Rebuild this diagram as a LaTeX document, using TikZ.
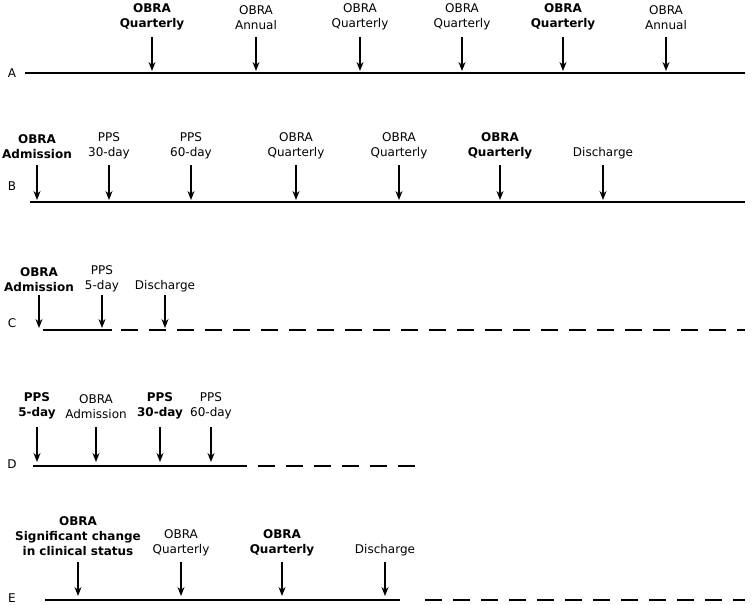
\documentclass[tikz,border=0pt]{standalone}
\usepackage{fontspec}
\setmainfont{DejaVu Sans}
\usetikzlibrary{arrows.meta}
\begin{document}
\begin{tikzpicture}[x=1pt,y=-1pt,
  lbl/.style={font=\fontsize{12}{15}\selectfont,align=center,inner sep=0pt},
  blbl/.style={lbl,font=\fontsize{12}{15}\selectfont\bfseries},
  arr/.style={-{Stealth[length=9pt,width=7pt]},line width=1.3pt},
  tl/.style={line width=1.2pt},
  dl/.style={line width=1.2pt,dash pattern=on 17pt off 11pt},
  rowl/.style={font=\fontsize{12}{14}\selectfont,inner sep=0pt}]
\useasboundingbox (0,0) rectangle (755,605);
% Row A
\node[rowl] (lA) at (12,73) {A};
\coordinate (a0) at (25,73); \coordinate (a1) at (745,73);
\draw[tl] (a0) -- (a1);
\foreach \x/\t/\s [count=\i] in {152/{OBRA\\Quarterly}/blbl,256/{OBRA\\Annual}/lbl,360/{OBRA\\Quarterly}/lbl,462/{OBRA\\Quarterly}/lbl,563/{OBRA\\Quarterly}/blbl,666/{OBRA\\Annual}/lbl}{
  \node[\s,anchor=south] (ta\i) at (\x,30) {\t};
  \coordinate (sa\i) at (\x,37); \coordinate (ea\i) at (\x,71);
  \draw[arr] (sa\i) -- (ea\i);}
% Row B
\node[rowl] (lB) at (12,186) {B};
\coordinate (b0) at (30,202); \coordinate (b1) at (745,202);
\draw[tl] (b0) -- (b1);
\foreach \x/\t/\s [count=\i] in {37/{OBRA\\Admission}/blbl,109/{PPS\\30-day}/lbl,191/{PPS\\60-day}/lbl,296/{OBRA\\Quarterly}/lbl,399/{OBRA\\Quarterly}/lbl,500/{OBRA\\Quarterly}/blbl,603/{Discharge}/lbl}{
  \node[\s,anchor=south] (tb\i) at (\x,159) {\t};
  \coordinate (sb\i) at (\x,165); \coordinate (eb\i) at (\x,200);
  \draw[arr] (sb\i) -- (eb\i);}
% Row C
\node[rowl] (lC) at (12,323) {C};
\coordinate (c0) at (43,330); \coordinate (c1) at (112,330);
\coordinate (c2) at (121,330); \coordinate (c3) at (745,330);
\draw[tl] (c0) -- (c1);
\draw[dl] (c2) -- (c3);
\foreach \x/\t/\s [count=\i] in {39/{OBRA\\Admission}/blbl,102/{PPS\\5-day}/lbl,165/{Discharge}/lbl}{
  \node[\s,anchor=south] (tc\i) at (\x,292) {\t};
  \coordinate (sc\i) at (\x,295); \coordinate (ec\i) at (\x,328);
  \draw[arr] (sc\i) -- (ec\i);}
% Row D
\node[rowl] (lD) at (12,464) {D};
\coordinate (d0) at (33,466); \coordinate (d1) at (247,466);
\coordinate (d2) at (258,466); \coordinate (d3) at (420,466);
\draw[tl] (d0) -- (d1);
\draw[dl] (d2) -- (d3);
\foreach \x/\t/\s [count=\i] in {37/{PPS\\5-day}/blbl,96/{OBRA\\Admission}/lbl,160/{PPS\\30-day}/blbl,211/{PPS\\60-day}/lbl}{
  \node[\s,anchor=south] (td\i) at (\x,419) {\t};
  \coordinate (sd\i) at (\x,427); \coordinate (ed\i) at (\x,462);
  \draw[arr] (sd\i) -- (ed\i);}
% Row E
\node[rowl] (lE) at (12,598) {E};
\coordinate (e0) at (45,600); \coordinate (e1) at (400,600);
\coordinate (e2) at (425,600); \coordinate (e3) at (745,600);
\draw[tl] (e0) -- (e1);
\draw[dl] (e2) -- (e3);
\foreach \x/\t/\s [count=\i] in {78/{OBRA\\Significant change\\in clinical status}/blbl,181/{OBRA\\Quarterly}/lbl,282/{OBRA\\Quarterly}/blbl,385/{Discharge}/lbl}{
  \node[\s,anchor=south] (te\i) at (\x,556) {\t};
  \coordinate (se\i) at (\x,562); \coordinate (ee\i) at (\x,596);
  \draw[arr] (se\i) -- (ee\i);}
\end{tikzpicture}
\end{document}
